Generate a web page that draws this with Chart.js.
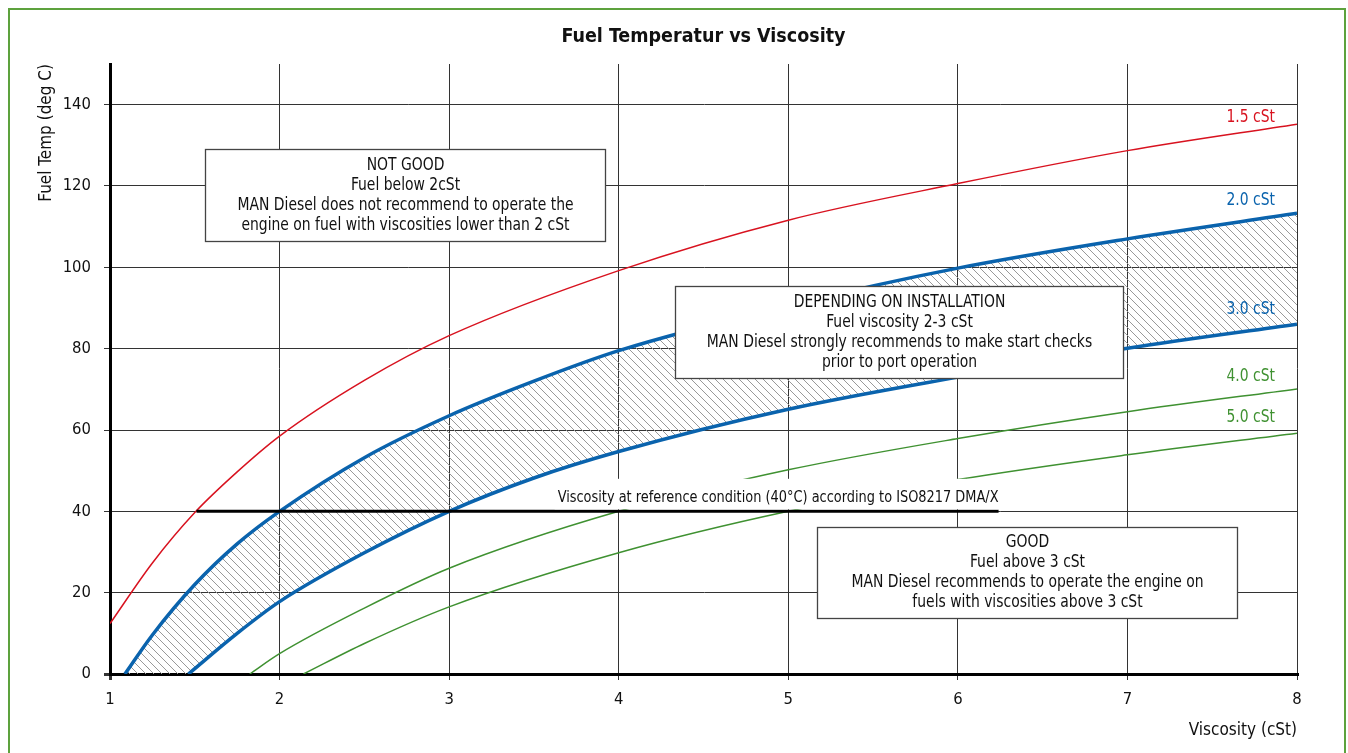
<!DOCTYPE html>
<html>
<head>
<meta charset="utf-8">
<title>Fuel Temperatur vs Viscosity</title>
<script src="https://cdn.jsdelivr.net/npm/chart.js@4/dist/chart.umd.min.js"></script>
<style>
  html, body { margin: 0; padding: 0; background: #fff; overflow: hidden; }
  canvas { display: block; }
</style>
</head>
<body>
<canvas id="viscChart" width="1348" height="753"></canvas>
<script>
// x = viscosity (cSt), y = fuel temperature (deg C)
const red15X = [1, 1.25, 1.5, 1.75, 2, 2.5, 3, 4, 5, 6, 7, 8];
const red15Y = [12.4, 27.3, 39.7, 49.7, 58.5, 72.2, 83.2, 99.2, 111.6, 120.6, 128.7, 135.2];

const blue20X = [1.088, 1.25, 1.5, 1.75, 2, 2.5, 3, 3.5, 4, 5, 6, 7, 8];
const blue20Y = [0, 9.6, 22, 32, 40, 53.2, 63.5, 72, 79.5, 90.6, 99.8, 107.0, 113.3];

const blue30X = [1.462, 1.75, 2, 2.5, 3, 3.5, 4, 5, 6, 7, 8];
const blue30Y = [0, 10, 17.8, 29.8, 40, 48.2, 54.7, 65.1, 73.0, 80.1, 86.0];

const green40X = [1.824, 2, 2.5, 3, 4, 5, 6, 7, 8];
const green40Y = [0, 5, 16.2, 26, 40, 50.2, 57.9, 64.5, 70.1];

const green50X = [2.141, 2.5, 3, 4, 5, 6, 7, 8];
const green50Y = [0, 7.5, 16.5, 29.8, 40, 47.8, 53.9, 59.2];

// reference condition line (40 deg C)
const refX = [1.51, 6.24];
const refY = [40, 40];

const curveNames = ["1.5 cSt", "2.0 cSt", "3.0 cSt", "4.0 cSt", "5.0 cSt"];

const notGoodText = [
  "NOT GOOD",
  "Fuel below 2cSt",
  "MAN Diesel does not recommend to operate the",
  "engine on fuel with viscosities lower than 2 cSt",
];
const dependingText = [
  "DEPENDING ON INSTALLATION",
  "Fuel viscosity 2-3 cSt",
  "MAN Diesel strongly recommends to make start checks",
  "prior to port operation",
];
const goodText = [
  "GOOD",
  "Fuel above 3 cSt",
  "MAN Diesel recommends to operate the engine on",
  "fuels with viscosities above 3 cSt",
];
const refLabel = "Viscosity at reference condition (40°C) according to ISO8217 DMA/X";

const RED = "#d8121f";
const BLUE = "#0a63ad";
const GREEN = "#3f9131";
const FONT = "'Liberation Sans Narrow', 'Arial Narrow', 'DejaVu Sans Condensed', sans-serif";
const SQUEEZE = 0.91; // the original uses a condensed face

Chart.defaults.font.family = FONT;
Chart.defaults.color = "#111";

function toPoints(xs, ys) {
  return xs.map((x, i) => ({ x: x, y: ys[i] }));
}

function curve(label, xs, ys, color, width) {
  return {
    label: label,
    data: toPoints(xs, ys),
    borderColor: color,
    borderWidth: width,
    pointRadius: 0,
    cubicInterpolationMode: "monotone",
    fill: false,
  };
}

// hatch pattern for the 2-3 cSt band: crisp 1px diagonal
function makeHatch() {
  const size = 8;
  const c = document.createElement("canvas");
  c.width = size;
  c.height = size;
  const p = c.getContext("2d");
  p.fillStyle = "#999";
  for (let i = 0; i < size; i++) p.fillRect(i, i, 1, 1);
  return c;
}

function pointsOf(chart, index) {
  const meta = chart.getDatasetMeta(index);
  meta.dataset.updateControlPoints(chart.chartArea, meta.axis);
  return meta.data;
}

// narrow text: draw with a horizontal squeeze
function narrowText(ctx, text, x, y, align) {
  ctx.save();
  ctx.translate(x, y);
  ctx.scale(SQUEEZE, 1);
  ctx.textAlign = align;
  ctx.fillText(text, 0, 0);
  ctx.restore();
}

const hatchPlugin = {
  id: "hatchBand",
  beforeDatasetsDraw(chart, args, opts) {
    const ctx = chart.ctx;
    const upper = pointsOf(chart, opts.upper);
    const lower = pointsOf(chart, opts.lower);
    const area = chart.chartArea;
    ctx.save();
    ctx.beginPath();
    ctx.rect(area.left, area.top, area.right - area.left, area.bottom - area.top);
    ctx.clip();
    ctx.beginPath();
    ctx.moveTo(upper[0].x, upper[0].y);
    for (let i = 0; i < upper.length - 1; i++) {
      const a = upper[i], b = upper[i + 1];
      ctx.bezierCurveTo(a.cp2x, a.cp2y, b.cp1x, b.cp1y, b.x, b.y);
    }
    const last = lower[lower.length - 1];
    ctx.lineTo(last.x, last.y);
    for (let i = lower.length - 1; i > 0; i--) {
      const a = lower[i], b = lower[i - 1];
      ctx.bezierCurveTo(a.cp1x, a.cp1y, b.cp2x, b.cp2y, b.x, b.y);
    }
    ctx.closePath();
    ctx.fillStyle = ctx.createPattern(makeHatch(), "repeat");
    ctx.fill();
    ctx.restore();
  },
};

const framePlugin = {
  id: "frame",
  beforeDraw(chart) {
    const ctx = chart.ctx;
    ctx.save();
    ctx.fillStyle = "#fff";
    ctx.fillRect(0, 0, chart.width, chart.height);
    ctx.strokeStyle = "#5da23d";
    ctx.lineWidth = 2;
    ctx.strokeRect(9, 9, 1336, 800);
    ctx.restore();
  },
};

const notesPlugin = {
  id: "notes",
  afterDatasetsDraw(chart, args, opts) {
    const ctx = chart.ctx;
    const xs = chart.scales.x;
    const ys = chart.scales.y;
    ctx.save();

    // label of the 40 deg line, with a white backing
    ctx.font = "15.8px " + FONT;
    const lineEnd = xs.getPixelForValue(refX[1]);
    const lineY = ys.getPixelForValue(refY[1]);
    const w = ctx.measureText(refLabel).width * SQUEEZE;
    const bgTop = ys.getPixelForValue(48);
    ctx.fillStyle = "#fff";
    ctx.fillRect(lineEnd - w - 3, bgTop, w + 3, lineY - 2 - bgTop);
    ctx.fillStyle = "#111";
    ctx.textBaseline = "alphabetic";
    narrowText(ctx, refLabel, lineEnd, lineY - 9, "right");

    // boxed notes
    ctx.font = "17px " + FONT;
    ctx.textBaseline = "middle";
    for (const b of opts.boxes) {
      const l = Math.round(xs.getPixelForValue(b.x0)) + 0.5;
      const r = Math.round(xs.getPixelForValue(b.x1)) + 0.5;
      const t = Math.round(ys.getPixelForValue(b.y0)) + 0.5;
      const btm = Math.round(ys.getPixelForValue(b.y1)) + 0.5;
      ctx.fillStyle = "#fff";
      ctx.fillRect(l, t, r - l, btm - t);
      ctx.strokeStyle = "#444";
      ctx.lineWidth = 1.3;
      ctx.strokeRect(l, t, r - l, btm - t);
      ctx.fillStyle = "#111";
      const cx = (l + r) / 2;
      const cy = (t + btm) / 2;
      const n = b.lines.length;
      b.lines.forEach((line, i) => {
        narrowText(ctx, line, cx, cy + (i - (n - 1) / 2) * 20, "center");
      });
    }

    // curve names at the right end
    ctx.font = "17px " + FONT;
    ctx.textBaseline = "alphabetic";
    opts.curveLabels.forEach((c) => {
      const meta = chart.getDatasetMeta(c.dataset);
      const end = meta.data[meta.data.length - 1];
      ctx.fillStyle = c.color;
      narrowText(ctx, c.text, xs.getPixelForValue(8) - 22, end.y - c.lift, "right");
    });
    ctx.restore();
  },
};

new Chart(document.getElementById("viscChart"), {
  type: "line",
  data: {
    datasets: [
      curve("40 deg reference", refX, refY, "#000", 3),
      curve(curveNames[0], red15X, red15Y, RED, 1.5),
      curve(curveNames[1], blue20X, blue20Y, BLUE, 3.5),
      curve(curveNames[2], blue30X, blue30Y, BLUE, 3.5),
      curve(curveNames[3], green40X, green40Y, GREEN, 1.5),
      curve(curveNames[4], green50X, green50Y, GREEN, 1.5),
    ],
  },
  plugins: [framePlugin, hatchPlugin, notesPlugin],
  options: {
    responsive: false,
    devicePixelRatio: 1,
    animation: false,
    layout: { padding: { left: 0, right: 51, top: 0, bottom: 0 } },
    scales: {
      x: {
        type: "linear",
        min: 1,
        max: 8,
        ticks: { stepSize: 1, font: { size: 16.5 }, color: "#111", padding: 10 },
        grid: {
          color: "#333",
          lineWidth: (c) => (c.tick && c.tick.value === 1 ? 3 : 1),
          tickLength: 6,
        },
        border: { display: true, color: "#000", width: 3 },
        title: {
          display: true,
          text: "Viscosity (cSt)",
          align: "end",
          color: "#111",
          font: { size: 17 },
          padding: { top: 0, bottom: 12 },
        },
        afterFit: (s) => { s.height = 79; },
      },
      y: {
        type: "linear",
        min: 0,
        max: 150,
        ticks: { stepSize: 20, font: { size: 16.5 }, color: "#111", padding: 13 },
        afterBuildTicks: (s) => { s.ticks = s.ticks.filter((t) => t.value <= 140); },
        grid: {
          color: "#333",
          lineWidth: (c) => (c.tick && c.tick.value === 0 ? 3 : 1),
          tickLength: 6,
        },
        border: { display: true, color: "#000", width: 3 },
        title: {
          display: true,
          text: "Fuel Temp (deg C)",
          align: "end",
          color: "#111",
          font: { size: 17 },
          padding: { top: 36, bottom: 0 },
        },
        afterFit: (s) => { s.width = 110; },
      },
    },
    plugins: {
      legend: { display: false },
      tooltip: { enabled: false },
      title: {
        display: true,
        text: "Fuel Temperatur vs Viscosity",
        fullSize: false,
        color: "#111",
        font: { size: 19.5, weight: "bold" },
        padding: { top: 25, bottom: 15.6 },
      },
      hatchBand: { upper: 2, lower: 3 },
      notes: {
        boxes: [
          { x0: 1.56, x1: 3.92, y0: 129.2, y1: 106.5, lines: notGoodText },
          { x0: 4.332, x1: 6.974, y0: 95.5, y1: 72.8, lines: dependingText },
          { x0: 5.17, x1: 7.646, y0: 36.2, y1: 13.8, lines: goodText },
        ],
        curveLabels: [
          { dataset: 1, text: curveNames[0], color: RED, lift: 2 },
          { dataset: 2, text: curveNames[1], color: BLUE, lift: 8 },
          { dataset: 3, text: curveNames[2], color: BLUE, lift: 10 },
          { dataset: 4, text: curveNames[3], color: GREEN, lift: 8 },
          { dataset: 5, text: curveNames[4], color: GREEN, lift: 11 },
        ],
      },
    },
  },
});
</script>
</body>
</html>
